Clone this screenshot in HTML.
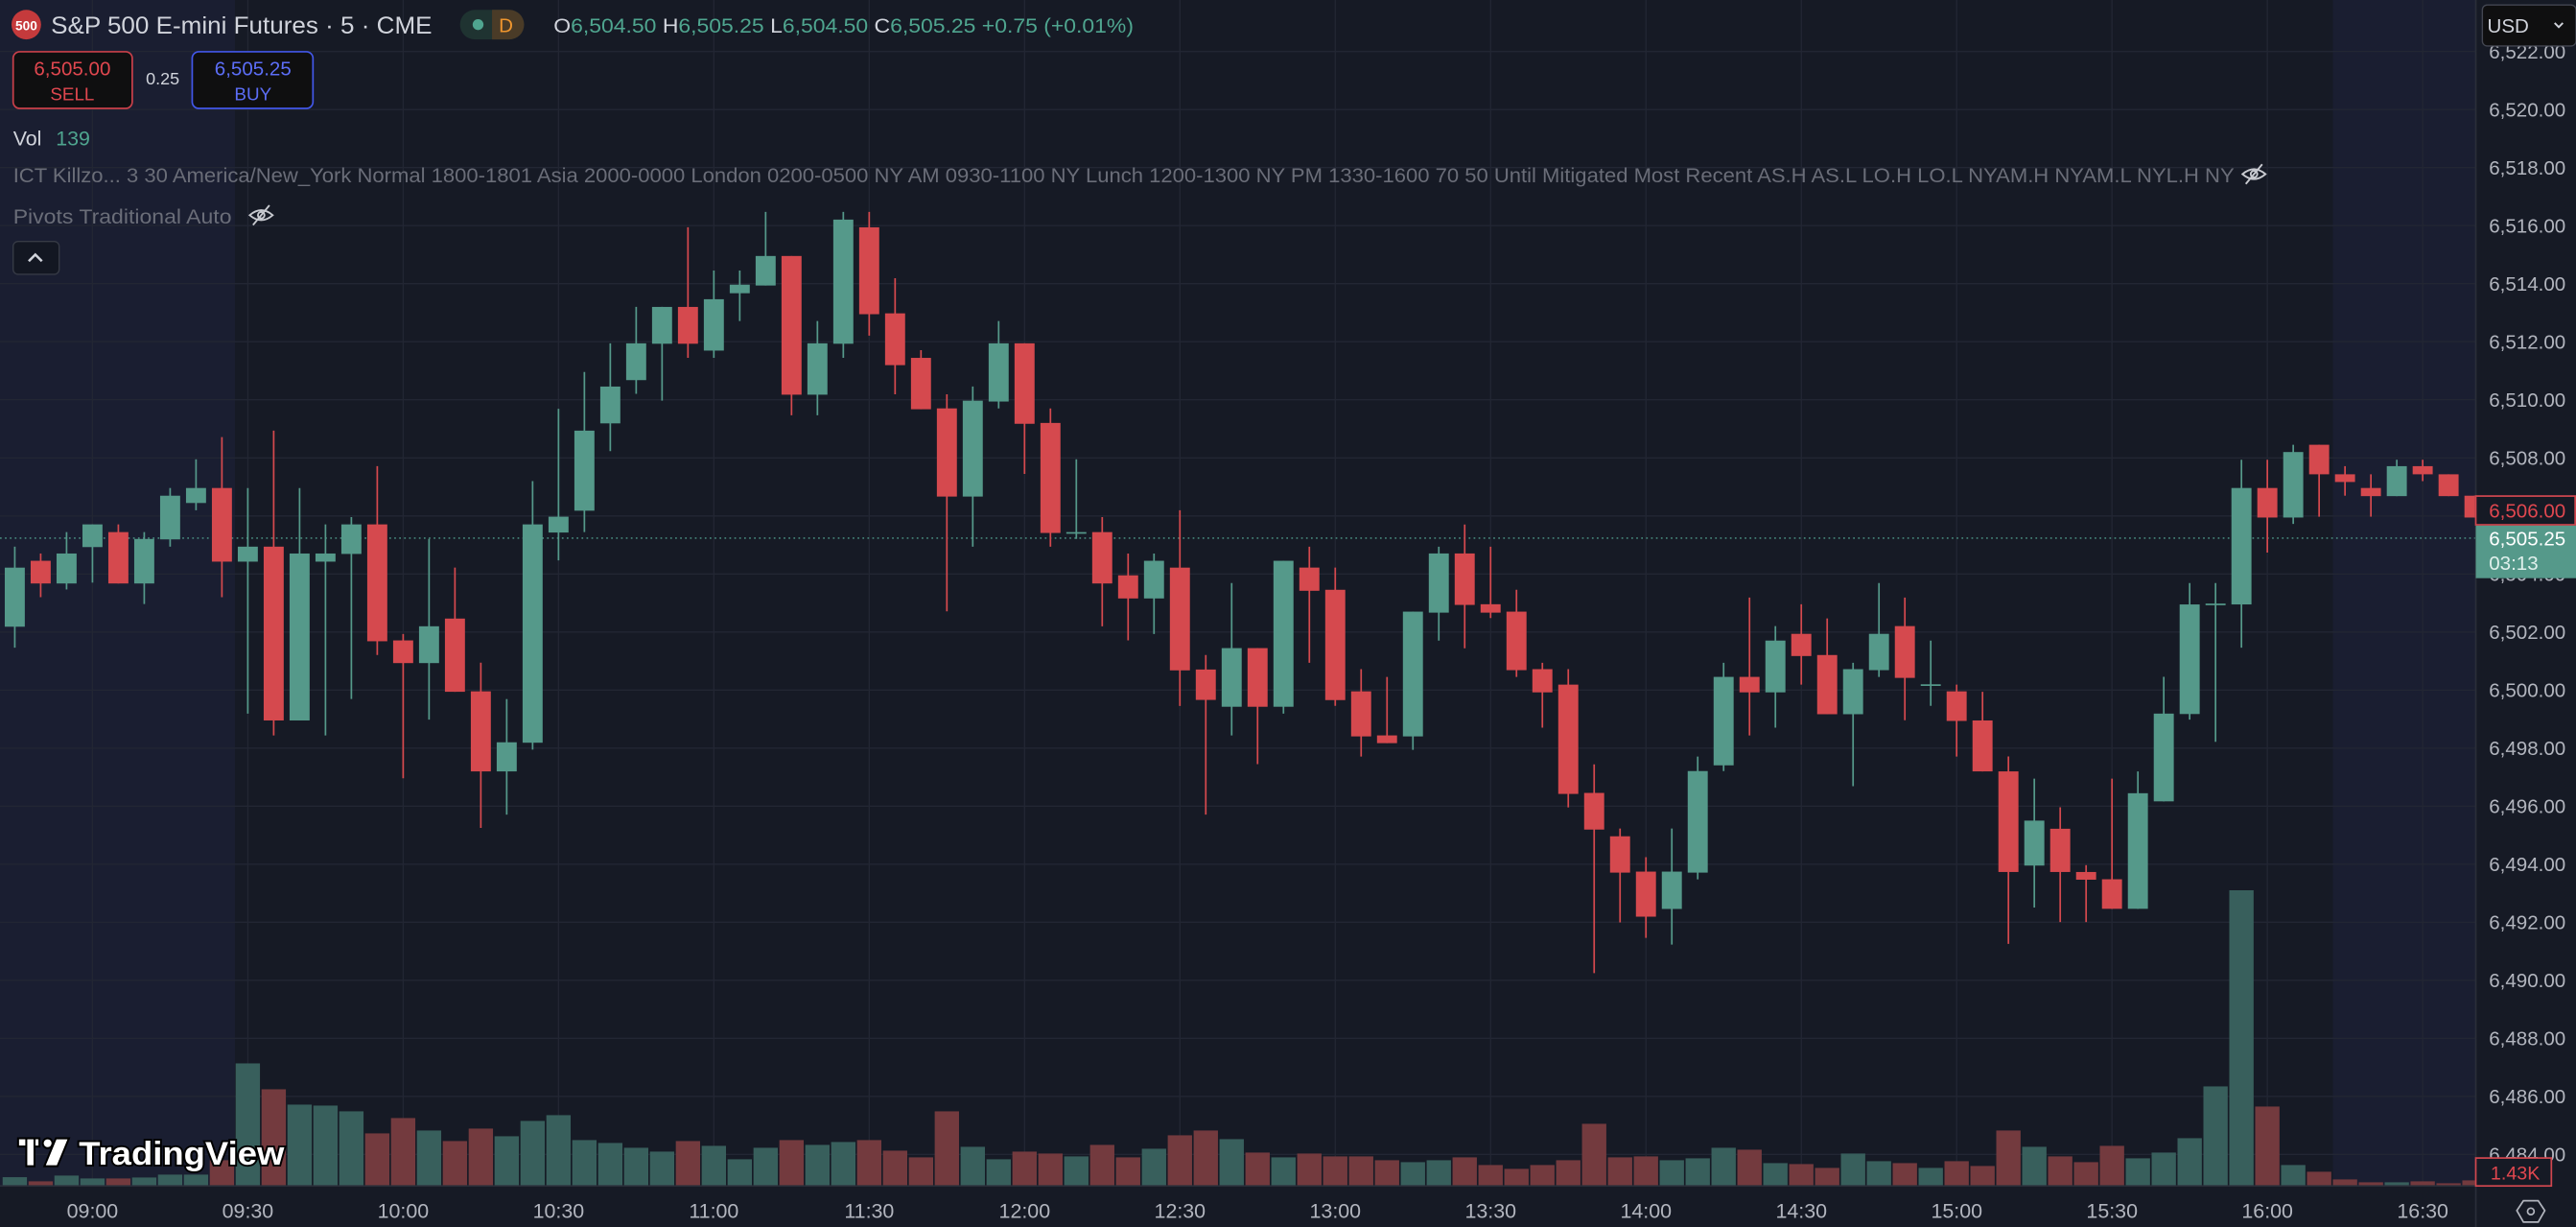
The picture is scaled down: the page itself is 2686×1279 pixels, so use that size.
<!DOCTYPE html>
<html><head><meta charset="utf-8">
<style>
html,body{margin:0;padding:0;background:#161a25;overflow:hidden;width:2686px;height:1279px}
svg{display:block}
text{font-family:"Liberation Sans",sans-serif}
</style></head>
<body>
<svg id="s" width="2686" height="1279" viewBox="0 0 1568 747" preserveAspectRatio="none" xmlns="http://www.w3.org/2000/svg">
<rect x="0" y="0" width="1568" height="747" fill="#161a25"/>
<rect x="0" y="0" width="143" height="722" fill="#1a1e31"/>
<rect x="1420" y="0" width="87" height="722" fill="#1a1e31"/>
<g id="grid"></g>
<line x1="0" y1="327.6" x2="1507" y2="327.6" stroke="#4f9a8a" stroke-width="0.8" stroke-dasharray="1,2"/>
<g id="vol"></g>
<g id="cdl"></g>
<!-- TradingView logo -->
<g>
<rect x="11" y="693" width="13" height="5" fill="#fff" stroke="#000" stroke-width="1.2"/>
<rect x="16" y="693" width="5" height="17" fill="#fff" stroke="#000" stroke-width="1.2"/>
<circle cx="29" cy="696" r="3" fill="#fff" stroke="#000" stroke-width="1.2"/>
<polygon points="34,693 42,693 35,710 27,710" fill="#fff" stroke="#000" stroke-width="1.2"/>
<text x="48" y="709" font-size="20" font-weight="bold" fill="#fff" stroke="#000" stroke-width="2.2" paint-order="stroke" textLength="125" lengthAdjust="spacingAndGlyphs">TradingView</text>
</g>
<!-- axes -->
<rect x="1507" y="0" width="61" height="747" fill="#161a25"/>
<rect x="0" y="722" width="1507" height="25" fill="#161a25"/>
<line x1="1507" y1="0" x2="1507" y2="747" stroke="#2a2e39" stroke-width="1"/>
<line x1="0" y1="722" x2="1507" y2="722" stroke="#2a2e39" stroke-width="1"/>
<g id="axes"></g>
<!-- header -->
<circle cx="16" cy="15" r="9" fill="#c53a3c"/>
<text x="16" y="18.5" font-size="8" font-weight="bold" fill="#fff" text-anchor="middle">500</text>
<text x="31" y="20.5" font-size="14.5" fill="#d1d4dc" textLength="232" lengthAdjust="spacingAndGlyphs">S&amp;P 500 E-mini Futures · 5 · CME</text>
<rect x="280" y="6" width="39" height="18" rx="9" fill="#1f3331"/>
<path d="M299.5 6 h10.5 a9 9 0 0 1 0 18 h-10.5 z" fill="#4a3b27"/>
<circle cx="291" cy="15" r="3.3" fill="#4fa58f"/>
<text x="308" y="19.5" font-size="12" fill="#f0962e" text-anchor="middle">D</text>
<text x="337" y="20" font-size="12.5" fill="#d1d4dc" textLength="353" lengthAdjust="spacingAndGlyphs">O<tspan fill="#4fa58f">6,504.50 </tspan>H<tspan fill="#4fa58f">6,505.25 </tspan>L<tspan fill="#4fa58f">6,504.50 </tspan>C<tspan fill="#4fa58f">6,505.25 +0.75 (+0.01%)</tspan></text>
<rect x="8" y="31.5" width="72.5" height="34.5" rx="4" fill="#0f0f10" stroke="#c9404a" stroke-width="1"/>
<text x="44" y="46" font-size="12" fill="#e0474f" text-anchor="middle">6,505.00</text>
<text x="44" y="61" font-size="11" fill="#e0474f" text-anchor="middle">SELL</text>
<text x="99" y="51.5" font-size="10.5" fill="#d1d4dc" text-anchor="middle">0.25</text>
<rect x="117" y="31.5" width="73.5" height="34.5" rx="4" fill="#0f0f10" stroke="#4257e8" stroke-width="1"/>
<text x="154" y="46" font-size="12" fill="#5c6ef7" text-anchor="middle">6,505.25</text>
<text x="154" y="61" font-size="11" fill="#5c6ef7" text-anchor="middle">BUY</text>
<text x="8" y="88.5" font-size="12.5" fill="#d1d4dc">Vol</text>
<text x="34" y="88.5" font-size="12.5" fill="#4fa58f">139</text>
<text x="8" y="111" font-size="12.5" fill="#6a6d78" textLength="1352" lengthAdjust="spacingAndGlyphs">ICT Killzo...  3 30 America/New_York Normal 1800-1801 Asia 2000-0000 London 0200-0500 NY AM 0930-1100 NY Lunch 1200-1300 NY PM 1330-1600 70 50 Until Mitigated Most Recent AS.H AS.L LO.H LO.L NYAM.H NYAM.L NYL.H NY</text>
<g fill="none" stroke="#c8cad0" stroke-width="1.1">
<path d="M1365 106 q7 -6 14 0 q-7 6 -14 0z"/><circle cx="1372" cy="106" r="2"/><line x1="1367" y1="112" x2="1377" y2="100"/>
<path d="M152 131 q7 -6 14 0 q-7 6 -14 0z"/><circle cx="159" cy="131" r="2"/><line x1="154" y1="137" x2="164" y2="125"/>
</g>
<text x="8" y="136" font-size="12.5" fill="#6a6d78" textLength="133" lengthAdjust="spacingAndGlyphs">Pivots Traditional Auto</text>
<rect x="8" y="147" width="28" height="20" rx="3" fill="#131722" stroke="#363a45" stroke-width="0.8"/>
<path d="M17.5 159 l4 -4 l4 4" fill="none" stroke="#d1d4dc" stroke-width="1.5"/>
<!-- right labels -->
<rect x="1511" y="3" width="57" height="25" rx="3" fill="#0f0f10" stroke="#434651" stroke-width="0.8"/>
<text x="1514" y="20" font-size="12" fill="#d1d4dc">USD</text>
<path d="M1555 14 l2.5 2.5 l2.5 -2.5" fill="none" stroke="#d1d4dc" stroke-width="1.1"/>
<g id="axes2"></g>
<rect x="1507" y="302" width="60.5" height="17.5" fill="#161a25" stroke="#d0474f" stroke-width="1"/>
<text x="1515" y="315" font-size="12" fill="#e0474f">6,506.00</text>
<rect x="1507" y="320" width="61" height="32" fill="#55998a"/>
<text x="1515" y="332" font-size="12" fill="#fff">6,505.25</text>
<text x="1515" y="347" font-size="12" fill="#e0f0ec">03:13</text>
<rect x="1507" y="705" width="46" height="17" fill="#161a25" stroke="#d0474f" stroke-width="1"/>
<text x="1516" y="718" font-size="11.5" fill="#e0474f">1.43K</text>
<g fill="none" stroke="#b2b5be" stroke-width="1"><polygon points="1536,731 1545,731 1549,737 1545,744 1536,744 1532,737"/><circle cx="1540.5" cy="737.5" r="2"/></g>
</svg>
<script>
(function(){
var NS="http://www.w3.org/2000/svg";
function el(p,t,a,txt){var e=document.createElementNS(NS,t);for(var k in a)e.setAttribute(k,a[k]);if(txt!==undefined)e.textContent=txt;document.getElementById(p).appendChild(e);return e;}
function yp(p){return 243.4+(6510-p)*17.67;}
for(var p=6484;p<=6522;p+=2){el("grid","line",{x1:0,x2:1507,y1:yp(p),y2:yp(p),stroke:"#222633","stroke-width":0.8});}
var times=["09:00","09:30","10:00","10:30","11:00","11:30","12:00","12:30","13:00","13:30","14:00","14:30","15:00","15:30","16:00","16:30"];
for(var i=0;i<16;i++){var x=56.3+i*94.56;el("grid","line",{x1:x,x2:x,y1:0,y2:722,stroke:"#222633","stroke-width":0.8});}
var A=[[829,878,1016,1065,1],[845,862,915,947,0],[795,845,915,929,1],[777,777,830,913,1],[777,795,915,915,0],[795,811,915,963,1],[692,710,812,829,1],[625,692,727,744,1],[573,692,864,947,0],[692,829,864,1219,1],[558,829,1235,1270,0],[692,845,1235,1235,1],[777,845,864,1270,1],[760,777,846,1185,1],[641,777,1050,1082,0],[1033,1048,1101,1370,0],[811,1015,1101,1233,1],[878,997,1168,1168,0],[1100,1167,1354,1486,0],[1185,1286,1354,1455,1],[676,777,1287,1303,1],[507,759,796,861,1],[421,558,745,795,1],[354,455,541,606,1],[269,354,440,472,1],[269,269,355,488,1],[83,269,355,388,0],[184,251,371,388,1],[184,217,237,302,1],[47,150,219,219,1],[150,150,474,522,0],[302,354,474,522,1],[47,65,355,388,1],[47,83,286,336,0],[202,284,405,473,0],[370,388,508,508,0],[473,506,712,980,0],[455,488,712,829,1],[302,354,490,506,1],[354,354,542,659,0],[506,540,797,829,0],[625,795,797,811,1],[760,795,915,1015,0],[845,896,950,1048,0],[845,862,950,1033,1],[744,878,1118,1201,0],[1082,1116,1187,1455,0],[914,1066,1203,1270,1],[1066,1066,1203,1337,0],[862,862,1203,1219,1]];
var B=[[200,262,331,545,0],[262,328,656,673,0],[564,630,764,824,0],[587,761,784,784,0],[393,393,764,804,1],[200,220,396,479,1],[134,220,373,502,0],[200,371,396,412,0],[328,393,567,587,0],[545,564,633,738,0],[564,610,935,975,0],[847,932,1041,1468,0],[1038,1061,1169,1317,0],[1123,1166,1300,1363,0],[1038,1166,1277,1383,1],[824,867,1169,1189,1],[545,587,850,867,1],[351,587,633,761,0],[436,479,633,738,1],[371,459,525,610,0],[413,522,698,698,0],[545,564,698,912,1],[308,459,567,587,1],[351,436,590,716,0],[479,609,612,673,1],[610,630,718,824,0]];
var C=[[720,787,906,906,0],[871,906,1141,1309,0],[923,1021,1126,1224,1],[990,1040,1141,1258,0],[1125,1141,1159,1258,0],[923,1158,1227,1227,0],[906,957,1227,1227,1],[685,771,976,976,1],[466,516,772,785,1],[466,514,517,837,1],[178,244,516,617,1],[178,244,313,395,0],[143,160,313,328,1],[143,143,212,311,0],[193,212,230,262,0],[212,244,263,311,0],[178,193,263,263,1],[178,193,212,228,0],[212,212,263,263,0],[262,262,313,313,0]];
var cd=[];
A.forEach(function(d){cd.push(d.slice(0,4).map(function(v){return 116.75+v/3.837;}).concat(d[4]));});
B.forEach(function(d){cd.push(d.slice(0,4).map(function(v){return 291.9+v/4.884;}).concat(d[4]));});
C.forEach(function(d){cd.push(d.slice(0,4).map(function(v){return 233.5+v/3.837;}).concat(d[4]));});
var V=[413,426,408,417,417,414,405,405,360,57,138,186,189,207,276,228,267,300,261,285,237,219,297,306,321,333,300,315,357,321,297,312,303,297,330,351,207,318,357,333,339,348,312,351,324,282,267,294,336,351,339,348,348,360,366,360,351,375,387,375,360,246,351,348,360,354,321,327,369,372,384,339,363,369,384,363,378,267,318,348,366,315,354,336,291,129,-1,192,375,396,420,429,429,426,432,423];
for(var i=0;i<cd.length;i++){
 var x=9+i*15.76,d=cd[i],g=d[4]==1;
 var col=g?"#55998a":"#d5494e";
 var vt=V[i]<0?542:636.3+V[i]/5.139;
 var vw=Math.min(14.8,1507-(x-7.4));
 el("vol","rect",{x:x-7.4,y:vt,width:vw,height:722-vt,fill:g?"#385f5c":"#733a3e"});
 var hy=d[0],ty=d[1],by=d[2],ly=d[3];
 if(x<1507)el("cdl","line",{x1:x,x2:x,y1:hy,y2:ly,stroke:col,"stroke-width":1});
 var bw=Math.min(12.2,1507-(x-6.1));
 el("cdl","rect",{x:x-6.1,y:ty,width:bw,height:Math.max(by-ty,1),fill:col});
}
for(var p=6484;p<=6522;p+=2){
 var s=Math.floor(p/1000)+","+String(p%1000).padStart(3,"0")+".00";
 el("axes","text",{x:1515,y:yp(p)+4.3,"font-size":12,fill:"#b2b5be"},s);
}
for(var i=0;i<16;i++){el("axes","text",{x:56.3+i*94.56,y:741.5,"font-size":12.5,fill:"#b2b5be","text-anchor":"middle"},times[i]);}
})();
</script>
</body></html>
